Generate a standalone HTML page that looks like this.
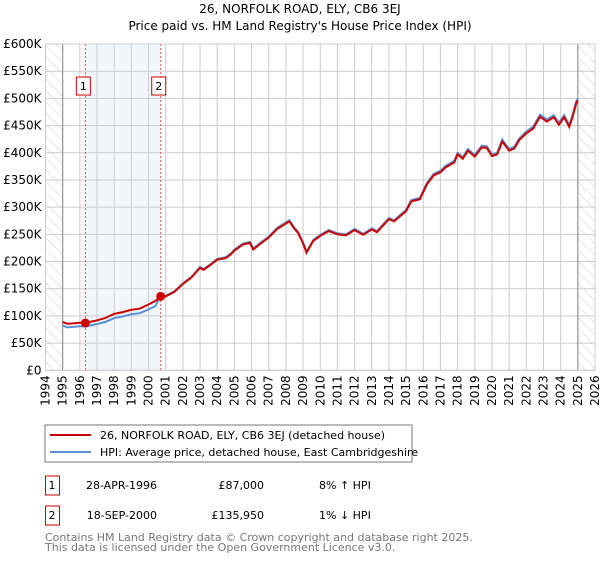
<!DOCTYPE html>
<html><head><meta charset="utf-8"><style>
body{margin:0;background:#fff;font-family:"DejaVu Sans","Liberation Sans",sans-serif;}
svg text{font-family:"DejaVu Sans","Liberation Sans",sans-serif;}
</style></head><body>
<svg id="chart" width="600" height="560" xmlns="http://www.w3.org/2000/svg">
<defs><pattern id="hatch" width="8" height="8" patternUnits="userSpaceOnUse" patternTransform="rotate(-45)"><line x1="0" y1="0" x2="0" y2="8" stroke="#ccc" stroke-width="1"/></pattern></defs>
<text x="300" y="13" text-anchor="middle" font-size="12">26, NORFOLK ROAD, ELY, CB6 3EJ</text>
<text x="300" y="30" text-anchor="middle" font-size="12">Price paid vs. HM Land Registry's House Price Index (HPI)</text>
<g id="plot"></g>
<rect x="45" y="425" width="367" height="37" fill="#fff" stroke="#777"/>
<line x1="50" y1="435" x2="91" y2="435" stroke="#cc0000" stroke-width="2"/>
<text x="100" y="439" font-size="11">26, NORFOLK ROAD, ELY, CB6 3EJ (detached house)</text>
<line x1="50" y1="452" x2="91" y2="452" stroke="#5b8fd4" stroke-width="2"/>
<text x="100" y="456" font-size="11">HPI: Average price, detached house, East Cambridgeshire</text>
<g>
<rect x="45.5" y="476" width="14" height="19" fill="#fff" stroke="#cc0000"/>
<text x="52" y="489" font-size="11" text-anchor="middle">1</text>
<text x="157" y="489" font-size="11" text-anchor="end">28-APR-1996</text>
<text x="264" y="489" font-size="11" text-anchor="end">£87,000</text>
<text x="319" y="489" font-size="11">8% ↑ HPI</text></g>
<g>
<rect x="45.5" y="506" width="14" height="19" fill="#fff" stroke="#cc0000"/>
<text x="52" y="519" font-size="11" text-anchor="middle">2</text>
<text x="157" y="519" font-size="11" text-anchor="end">18-SEP-2000</text>
<text x="264" y="519" font-size="11" text-anchor="end">£135,950</text>
<text x="319" y="519" font-size="11">1% ↓ HPI</text></g>
<text x="45" y="541" font-size="11" fill="#777">Contains HM Land Registry data © Crown copyright and database right 2025.</text>
<text x="45" y="551" font-size="11" fill="#777">This data is licensed under the Open Government Licence v3.0.</text>
</svg>
<script>
const hpiYears=[1995.0,1995.3,1995.7,1996.0,1996.32,1996.7,1997.0,1997.5,1998.0,1998.5,1999.0,1999.5,2000.0,2000.4,2000.71,2001.0,2001.5,2002.0,2002.5,2003.0,2003.2,2003.6,2004.0,2004.5,2004.8,2005.0,2005.5,2005.9,2006.1,2006.5,2007.0,2007.5,2008.0,2008.2,2008.5,2008.7,2009.0,2009.2,2009.6,2010.0,2010.5,2011.0,2011.5,2012.0,2012.5,2013.0,2013.3,2014.0,2014.3,2015.0,2015.3,2015.8,2016.2,2016.6,2017.0,2017.3,2017.8,2018.0,2018.3,2018.6,2019.0,2019.4,2019.7,2020.0,2020.3,2020.6,2021.0,2021.3,2021.6,2022.0,2022.4,2022.8,2023.2,2023.6,2023.9,2024.2,2024.5,2024.7,2024.9,2025.0];
const hpiValues=[82000,79000,80000,81000,80500,83000,85000,89000,96000,99000,103000,105000,112000,118000,137000,137000,145000,160000,172000,190000,186000,195000,205000,208000,215000,222000,233000,236000,224000,234000,246000,262000,272000,276000,262000,255000,235000,218000,240000,249000,258000,252000,250000,260000,251000,261000,256000,280000,276000,295000,313000,317000,344000,361000,367000,376000,385000,400000,392000,407000,396000,413000,412000,397000,400000,424000,407000,411000,427000,439000,448000,470000,461000,469000,455000,469000,451000,470000,494000,500000];
const saleYears=[1996.32,2000.71];
const salePrices=[87000,135950];
const yTicks=[0,50000,100000,150000,200000,250000,300000,350000,400000,450000,500000,550000,600000];
const yTickLabels=["£0","£50K","£100K","£150K","£200K","£250K","£300K","£350K","£400K","£450K","£500K","£550K","£600K"];
const xTicks=[1994,1995,1996,1997,1998,1999,2000,2001,2002,2003,2004,2005,2006,2007,2008,2009,2010,2011,2012,2013,2014,2015,2016,2017,2018,2019,2020,2021,2022,2023,2024,2025,2026];
const X0=45.5,X1=595,Y0=370.3,Y1=44;
const xs=y=>X0+(y-1994)/(2026-1994)*(X1-X0);
const ys=v=>Y0-v/600000*(Y0-Y1);
const NS="http://www.w3.org/2000/svg";
const g=document.getElementById('plot');
function mk(t,a,parent){const e=document.createElementNS(NS,t);for(const k in a)e.setAttribute(k,a[k]);(parent||g).appendChild(e);return e;}
let e;
e=mk('rect',{x:xs(saleYears[0]),y:Y1,width:xs(saleYears[1])-xs(saleYears[0]),height:Y0-Y1,fill:'#eef4fc',opacity:0.8});


e=mk('rect',{x:X0,y:Y1,width:xs(1995)-X0,height:Y0-Y1,fill:'url(#hatch)'});


e=mk('rect',{x:xs(2025),y:Y1,width:X1-xs(2025),height:Y0-Y1,fill:'url(#hatch)'});


yTicks.forEach((v,i)=>{
 e=mk('line',{x1:X0,x2:X1,y1:ys(v),y2:ys(v),stroke:'#ccc'});
 
 
 e=mk('text',{x:X0-4,y:ys(v)+4,'text-anchor':'end','font-size':12});
 e.textContent=yTickLabels[i];
 
 
});
xTicks.forEach(yr=>{
 e=mk('line',{x1:xs(yr),x2:xs(yr),y1:Y1,y2:Y0,stroke:'#ccc'});
 
 
 e=mk('text',{x:0,y:0,'font-size':12,'text-anchor':'end',transform:`translate(${xs(yr)+4},${Y0+5}) rotate(-90)`});
 e.textContent=yr;
 
 
});
[1995,2025].forEach(yr=>{e=mk('line',{x1:xs(yr),x2:xs(yr),y1:Y1,y2:Y0,stroke:'#888'});
 
 });
function hpiAt(t){for(let i=1;i<hpiYears.length;i++){if(t<=hpiYears[i]){const f=(t-hpiYears[i-1])/(hpiYears[i]-hpiYears[i-1]);return hpiValues[i-1]+f*(hpiValues[i]-hpiValues[i-1]);}}return hpiValues[hpiValues.length-1];}
e=mk('polyline',{points:hpiYears.map((t,i)=>xs(t)+','+ys(hpiValues[i])).join(' '),fill:'none',stroke:'#5b8fd4','stroke-width':2});


const pricePts=hpiYears.map((t,i)=>{const k=t<saleYears[1]?0:1;return xs(t)+','+ys(salePrices[k]*hpiValues[i]/hpiAt(saleYears[k]));});
e=mk('polyline',{points:pricePts.join(' '),fill:'none',stroke:'#cc0000','stroke-width':2});


saleYears.forEach((t,i)=>{
 e=mk('line',{x1:xs(t),x2:xs(t),y1:Y1,y2:Y0,stroke:'#e05050','stroke-dasharray':'2,2'});
 
 
 e=mk('circle',{cx:xs(t),cy:ys(salePrices[i]),r:4.5,fill:'#cc0000'});
 
 
 e=mk('rect',{x:xs(t)-9,y:77,width:14,height:18,fill:'#fff',stroke:'#cc0000'});
 
 
 e=mk('text',{x:xs(t)-2,y:90,'font-size':11,'text-anchor':'middle'});
 e.textContent=String(i+1);
 
 
});
e=mk('rect',{x:X0,y:Y1,width:X1-X0,height:Y0-Y1,fill:'none',stroke:'#ccc'});


</script>
</body></html>
